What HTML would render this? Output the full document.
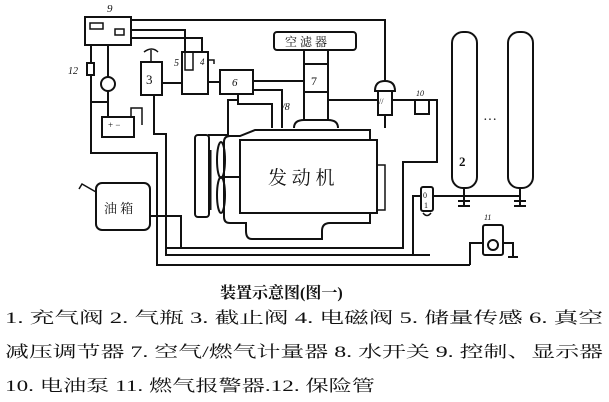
<!DOCTYPE html><html><head><meta charset="utf-8"><style>
body{margin:0;background:#fff;width:609px;height:402px;overflow:hidden}
svg{display:block}
text{font-family:"Liberation Serif","Noto Serif CJK SC","Noto Sans CJK SC",serif;fill:#111}
</style></head><body>
<svg width="609" height="402" viewBox="0 0 609 402" fill="none" stroke="#111" stroke-width="2">
<!-- box 9 -->
<rect x="85" y="17" width="46" height="28"/>
<rect x="90" y="23" width="13" height="6" stroke-width="1.5"/>
<rect x="115" y="29" width="9" height="6" stroke-width="1.5"/>
<text x="107" y="12" font-size="11" stroke="none" font-style="italic">9</text>
<!-- lines from 9 -->
<polyline points="131,20 385,20 385,82"/>
<polyline points="131,30 185,30 185,52"/>
<polyline points="131,38 202,38 202,52"/>
<!-- 12 fuse and left wiring -->
<polyline points="91,45 91,153 157,153 157,265 470,265"/>
<rect x="87" y="63" width="7" height="12" fill="#fff"/>
<text x="68" y="74" font-size="10" stroke="none" font-style="italic">12</text>
<polyline points="108,45 108,78"/>
<circle cx="108" cy="84" r="7"/>
<polyline points="108,91 108,118"/>
<polyline points="91,102 108,102"/>
<rect x="102" y="117" width="32" height="20"/>
<text x="108" y="128" font-size="9" stroke="none">+ −</text>
<polyline points="131,117 131,108 142,108 142,125" stroke-width="1.5"/>
<!-- 3 -->
<rect x="141" y="62" width="21" height="33"/>
<path d="M144,52 q8,-6 14,0" stroke-width="1.5"/>
<line x1="151" y1="50" x2="151" y2="62" stroke-width="1.5"/>
<text x="146" y="84" font-size="13" stroke="none">3</text>
<polyline points="154,95 154,134 166,134 166,255 430,255"/>
<polyline points="162,83 182,83"/>
<!-- 5 -->
<rect x="182" y="52" width="26" height="42"/>
<path d="M185,52 v18 h8 v-18" stroke-width="1.5"/>
<text x="174" y="66" font-size="10" stroke="none" font-style="italic">5</text>
<text x="200" y="65" font-size="9" stroke="none" font-style="italic">4</text>
<path d="M208,60 h6 v4" stroke-width="1.5"/>
<line x1="208" y1="82" x2="220" y2="82"/>
<!-- 6 -->
<rect x="220" y="70" width="33" height="24"/>
<text x="232" y="86" font-size="11" stroke="none" font-style="italic">6</text>
<line x1="253" y1="81" x2="303" y2="81"/>
<polyline points="238,94 238,104 272,104 272,128"/>
<polyline points="237,100 228,100 228,135 208,135"/>
<polyline points="253,90 282,90 282,128"/>
<text x="282" y="110" font-size="10" stroke="none" font-style="italic">/8</text>
<!-- air filter & 7 -->
<rect x="274" y="32" width="82" height="18" rx="3"/>
<text x="285" y="46" font-size="12" stroke="none">空 滤 器</text>
<rect x="304" y="50" width="24" height="70"/>
<line x1="304" y1="64" x2="328" y2="64"/>
<line x1="304" y1="92" x2="328" y2="92"/>
<text x="311" y="85" font-size="12" stroke="none">7</text>
<path d="M294,128 q0,-8 10,-8 h24 q10,0 10,8"/>
<line x1="328" y1="100" x2="380" y2="100"/>
<!-- 11 filter -->
<path d="M375,91 q0,-10 10,-10 q10,0 10,10 z" fill="#fff"/>
<rect x="378" y="91" width="14" height="24" fill="#fff"/>
<text x="379" y="104" font-size="8" stroke="none">//</text>
<line x1="385" y1="115" x2="385" y2="128"/>
<line x1="392" y1="100" x2="415" y2="100"/>
<!-- 10 pump right -->
<rect x="415" y="100" width="14" height="14"/>
<line x1="413" y1="100" x2="432" y2="100"/>
<text x="416" y="96" font-size="8" stroke="none" font-style="italic">10</text>
<polyline points="429,100 437,100 437,162 403,162 403,248 166,248"/>
<!-- engine -->
<path d="M255,130 h115 v10 h7 v73 h-7 v10 h-40 q-8,0 -8,8 v8 h-70 q-6,0 -6,-8 v-8 h-16 q-6,0 -6,-6 v-75 q0,-6 6,-6 h10 z"/>
<rect x="240" y="140" width="137" height="73" fill="#fff"/>
<text x="268" y="184" font-size="19" stroke="none">发 动 机</text>
<path d="M377,165 h8 v45 h-8" stroke-width="1.5"/>
<!-- fan radiator -->
<rect x="195" y="135" width="14" height="82" rx="3"/>
<line x1="210" y1="150" x2="210" y2="210" stroke-width="3"/>
<ellipse cx="221" cy="160" rx="4" ry="18"/>
<ellipse cx="221" cy="195" rx="4" ry="18"/>
<line x1="225" y1="177" x2="240" y2="177"/>
<!-- oil tank -->
<rect x="96" y="183" width="54" height="47" rx="6"/>
<path d="M96,192 l-14,-8 l-3,5" stroke-width="1.5"/>
<text x="104" y="213" font-size="13" stroke="none">油 箱</text>
<polyline points="150,216 181,216 181,248"/>
<!-- 1 valve -->
<rect x="421" y="187" width="12" height="24" rx="2"/>
<text x="423" y="198" font-size="8" stroke="none">0</text>
<text x="424" y="208" font-size="8" stroke="none">1</text>
<path d="M423,213 q4,5 8,0" stroke-width="1.5"/>
<polyline points="421,196 413,196 413,255"/>
<line x1="433" y1="196" x2="521" y2="196"/>
<!-- tanks -->
<rect x="452" y="32" width="25" height="156" rx="11"/>
<rect x="508" y="32" width="25" height="156" rx="11"/>
<text x="459" y="166" font-size="13" stroke="none" font-weight="bold">2</text>
<text x="483" y="124" font-size="14" stroke="none">···</text>
<line x1="464" y1="188" x2="464" y2="206"/>
<line x1="520" y1="188" x2="520" y2="206"/>
<line x1="458" y1="201" x2="470" y2="201"/><line x1="514" y1="201" x2="526" y2="201"/>
<line x1="458" y1="206" x2="470" y2="206"/><line x1="514" y1="206" x2="526" y2="206"/>
<!-- 11 alarm -->
<rect x="483" y="225" width="20" height="30" rx="2"/>
<circle cx="493" cy="245" r="5"/>
<text x="484" y="220" font-size="8" stroke="none" font-style="italic">11</text>
<polyline points="483,243 470,243 470,265"/>
<polyline points="503,243 513,243 513,257"/>
<line x1="508" y1="257" x2="518" y2="257"/>
<!-- captions -->
<text x="220" y="298" font-size="16" font-weight="bold" stroke="none">装置示意图(图一)</text>
<text x="5" y="323" font-size="16" stroke="none" textLength="598" lengthAdjust="spacingAndGlyphs">1. 充气阀 2. 气瓶 3. 截止阀 4. 电磁阀 5. 储量传感 6. 真空</text>
<text x="5" y="357" font-size="16" stroke="none" textLength="598" lengthAdjust="spacingAndGlyphs">减压调节器 7. 空气/燃气计量器 8. 水开关 9. 控制、显示器</text>
<text x="5" y="391" font-size="16" stroke="none" textLength="370" lengthAdjust="spacingAndGlyphs">10. 电油泵 11. 燃气报警器.12. 保险管</text>
</svg>
</body></html>
